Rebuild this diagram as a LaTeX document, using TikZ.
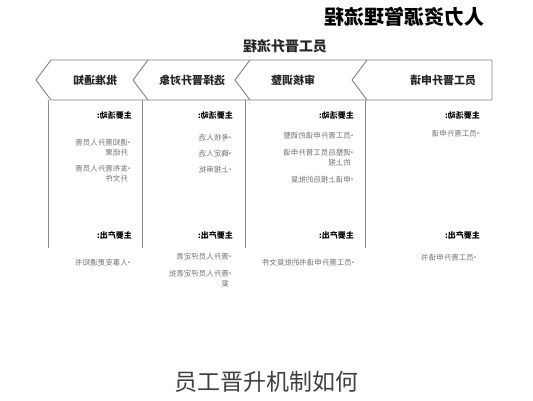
\documentclass[tikz,border=0pt]{standalone}
\usepackage{fontspec}
\setmainfont{Noto Sans CJK SC}
\newcommand\bul{•\kern-2.5pt}
\newcommand\hangitem[2]{\begin{tabular}[t]{@{}l@{}l@{}}\bul&#1\\&#2\end{tabular}}
\begin{document}
\begin{tikzpicture}[x=1pt,y=-1pt,
  mir/.style={xscale=-1, inner sep=0pt, anchor=base west},
  head/.style={mir, font=\fontsize{8}{9}\selectfont\bfseries, text=black},
  item/.style={mir, font=\fontsize{7.5}{10.5}\selectfont, text=black!55},
  stage/.style={xscale=-1, inner sep=0pt, font=\fontsize{11}{12}\selectfont\bfseries, text=black!85},
  frame/.style={draw=black!50, line width=0.9pt, line join=miter},
  col/.style={draw=black!45, line width=0.9pt}]
\useasboundingbox (0,0) rectangle (533,400);
% titles
\node[xscale=-1, inner sep=0pt, font=\fontsize{20}{22}\selectfont\bfseries] (title) at (404,17) {人力资源管理流程};
\node[xscale=-1, inner sep=0pt, font=\fontsize{14}{16}\selectfont\bfseries, text=black!85] (sub) at (285,46) {员工晋升流程};
% chevron band
\draw[frame] (492,60) -- (51,60) -- (36,80) -- (51,100) -- (492,100) -- cycle;
\draw[frame] (148,60) -- (133,80) -- (148,100);
\draw[frame] (250,60) -- (235,80) -- (250,100);
\draw[frame] (367,60) -- (352,80) -- (367,100);
\node[stage] (s1) at (443,80) {员工晋升申请};
\node[stage] (s2) at (293,80) {审核调整};
\node[stage] (s3) at (192,80) {选择晋升对象};
\node[stage] (s4) at (95,80) {批准通知};
% column lines
\draw[col] (48,100) -- (48,248);
\draw[col] (142,100) -- (142,248);
\draw[col] (245,100) -- (245,248);
\draw[col] (365,100) -- (365,248);
% column A
\node[head] (ha1) at (480,118) {主要活动:};
\node[item] (ia1) at (482,136) {\bul 员工晋升申请};
\node[head] (ha2) at (480,238) {主要产出:};
\node[item] (oa1) at (479,260) {\bul 员工晋升申请书};
% column B
\node[head] (hb1) at (354,118) {主要活动:};
\node[item] (ib1) at (356,138) {\bul 员工晋升申请的调整};
\node[item] (ib2) at (356,155) {\hangitem{调整后员工晋升申请}{的上报}};
\node[item] (ib3) at (356,182) {\bul 申请上报后的批复};
\node[head] (hb2) at (354,238) {主要产出:};
\node[item] (ob1) at (357,265) {\bul 员工晋升申请书的批复文件};
% column C
\node[head] (hc1) at (233,118) {主要活动:};
\node[item] (ic1) at (234,140) {\bul 考核人选};
\node[item] (ic2) at (234,156) {\bul 确定人选};
\node[item] (ic3) at (234,172) {\bul 上报审批};
\node[head] (hc2) at (233,238) {主要产出:};
\node[item] (oc1) at (234,259) {\bul 晋升人员评定表};
\node[item] (oc2) at (234,276) {\hangitem{晋升人员评定表批}{复}};
% column D
\node[head] (hd1) at (132,118) {主要活动:};
\node[item] (id1) at (133,145) {\hangitem{通知晋升人员晋}{升结果}};
\node[item] (id2) at (133,171) {\hangitem{发布晋升人员晋}{升文件}};
\node[head] (hd2) at (132,238) {主要产出:};
\node[item] (od1) at (133,265) {\bul 人事变更通知书};
% caption
\node[inner sep=0pt, font=\fontsize{23}{26}\selectfont, text=black!75] (cap) at (266,382) {员工晋升机制如何};
\end{tikzpicture}
\end{document}
